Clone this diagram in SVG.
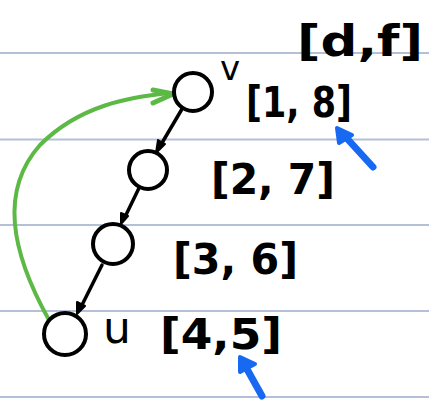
<svg xmlns="http://www.w3.org/2000/svg" width="429" height="401" viewBox="0 0 429 401">
<defs>
<style>
.rule{stroke:#b3c0d8;stroke-width:2}
.node circle{fill:#fff;stroke:#000;stroke-width:4}
.edge{stroke:#000;stroke-width:3.5;fill:none;stroke-linecap:round}
.head{fill:#000;stroke:#000;stroke-width:2;stroke-linejoin:round}
.lbl{font-family:"DejaVu Sans","Liberation Sans",sans-serif;fill:#000;font-weight:bold}
.blue{stroke:#1769f2;stroke-width:7;stroke-linecap:round;fill:none}
.bhead{fill:#1769f2;stroke:#1769f2;stroke-width:4;stroke-linejoin:round}
</style>
</defs>
<rect width="429" height="401" fill="#fff"/>
<g id="rules">
<line class="rule" x1="0" y1="53" x2="429" y2="53"/>
<line class="rule" x1="0" y1="139.5" x2="429" y2="139.5"/>
<line class="rule" x1="0" y1="225" x2="429" y2="225"/>
<line class="rule" x1="0" y1="311" x2="429" y2="311"/>
<line class="rule" x1="0" y1="397" x2="429" y2="397"/>
</g>
<g id="connectors">
<path d="M49 320 C10 250 0 190 40 145 C80 105 130 97 170 93" fill="none" stroke="#5cb946" stroke-width="4" stroke-linecap="round"/>
<path d="M153 90 L173 94 L153 103" fill="none" stroke="#5cb946" stroke-width="5" stroke-linecap="round" stroke-linejoin="round"/>
<line class="edge" x1="182" y1="109" x2="159" y2="148"/>
<polygon class="head" points="156,153 158,140 165,144"/>
<line class="edge" x1="139" y1="188" x2="124" y2="219"/>
<polygon class="head" points="121,224 121,213 128,216"/>
<line class="edge" x1="102" y1="265" x2="80" y2="309"/>
<polygon class="head" points="77,314 77,302 85,306"/>
</g>
<g id="node-v" class="node">
<circle cx="193" cy="92" r="19"/>
<text x="220" y="80" font-size="34" style="font-family:'DejaVu Sans',sans-serif">v</text>
<text class="lbl" x="246" y="117" font-size="42" textLength="106" lengthAdjust="spacingAndGlyphs">[1, 8]</text>
</g>
<g id="node-2" class="node">
<circle cx="148" cy="170" r="19"/>
<text class="lbl" x="211" y="194" font-size="42" textLength="124" lengthAdjust="spacingAndGlyphs">[2, 7]</text>
</g>
<g id="node-3" class="node">
<circle cx="113" cy="244" r="20"/>
<text class="lbl" x="173" y="274" font-size="42" textLength="125" lengthAdjust="spacingAndGlyphs">[3, 6]</text>
</g>
<g id="node-u" class="node">
<circle cx="65" cy="334" r="21"/>
<text x="103" y="343" font-size="44" style="font-family:'DejaVu Sans',sans-serif">u</text>
<text class="lbl" x="160" y="349" font-size="42" textLength="122" lengthAdjust="spacingAndGlyphs">[4,5]</text>
</g>
<g id="header">
<text class="lbl" x="297" y="56" font-size="42" textLength="126" lengthAdjust="spacingAndGlyphs">[d,f]</text>
</g>
<g id="blue-arrows">
<line class="blue" x1="373" y1="167" x2="342" y2="133"/>
<polygon class="bhead" points="337,128 339,143 352,135"/>
<line class="blue" x1="262" y1="396" x2="243" y2="362"/>
<polygon class="bhead" points="240,357 240,372 255,364"/>
</g>
</svg>
